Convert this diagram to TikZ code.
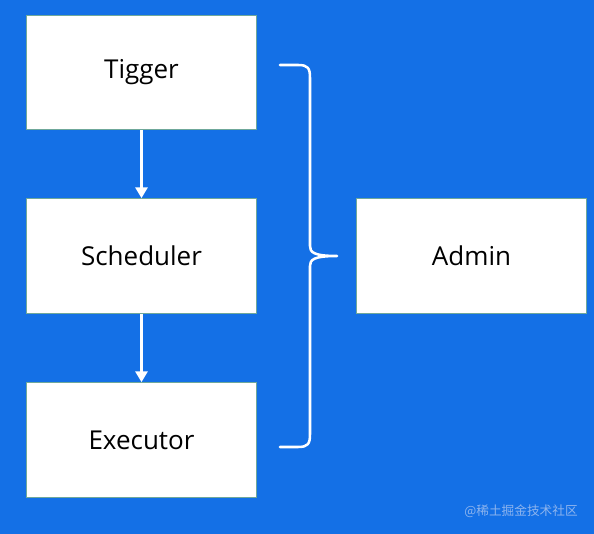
\documentclass[tikz,border=0pt]{standalone}
\usepackage{fontspec}
\setmainfont{Open Sans}
\newfontfamily\cjk{Noto Sans CJK SC}
\usetikzlibrary{arrows.meta}
\definecolor{bgblue}{HTML}{1470E6}
\definecolor{boxedge}{HTML}{6FA89A}
\definecolor{wmark}{HTML}{8DB4EE}
\begin{document}
\begin{tikzpicture}[x=0.75pt,y=-0.75pt,
  blockbox/.style={draw=boxedge,line width=0.8pt,fill=white,minimum width=173pt,minimum height=86pt,inner sep=0pt,font=\fontsize{19.5}{22}\selectfont,text=black},
  flowarrow/.style={draw=white,line width=1.7pt,-{Triangle[width=9pt,length=8pt]}},
  bracestyle/.style={draw=white,line width=1.9pt,line cap=round,line join=round}]
\fill[bgblue] (0,0) rectangle (594,534);
\useasboundingbox (0,0) rectangle (594,534);
\node[blockbox] (tig) at (141.5,72.5) {Tigger};
\node[blockbox] (sch) at (141.5,256) {Scheduler};
\node[blockbox] (exe) at (141.5,440) {Executor};
\node[blockbox] (adm) at (471.5,256) {Admin};
\draw[flowarrow] (tig.south) -- (sch.north);
\draw[flowarrow] (sch.south) -- (exe.north);
\coordinate (btop) at (280,65);
\coordinate (btip) at (337,256);
\coordinate (bbot) at (280,447);
\draw[bracestyle] (btop) -- (298,65) .. controls (308,65) and (310,68) .. (310,78)
  -- (310,246) .. controls (310,252) and (313,256) .. (btip)
  .. controls (313,256) and (310,260) .. (310,266)
  -- (310,434) .. controls (310,444) and (308,447) .. (298,447) -- (bbot);
\node[font=\cjk\fontsize{9.5}{11}\selectfont,text=wmark,anchor=east,inner sep=0pt] (wm) at (578,511) {@稀土掘金技术社区};
\end{tikzpicture}
\end{document}
